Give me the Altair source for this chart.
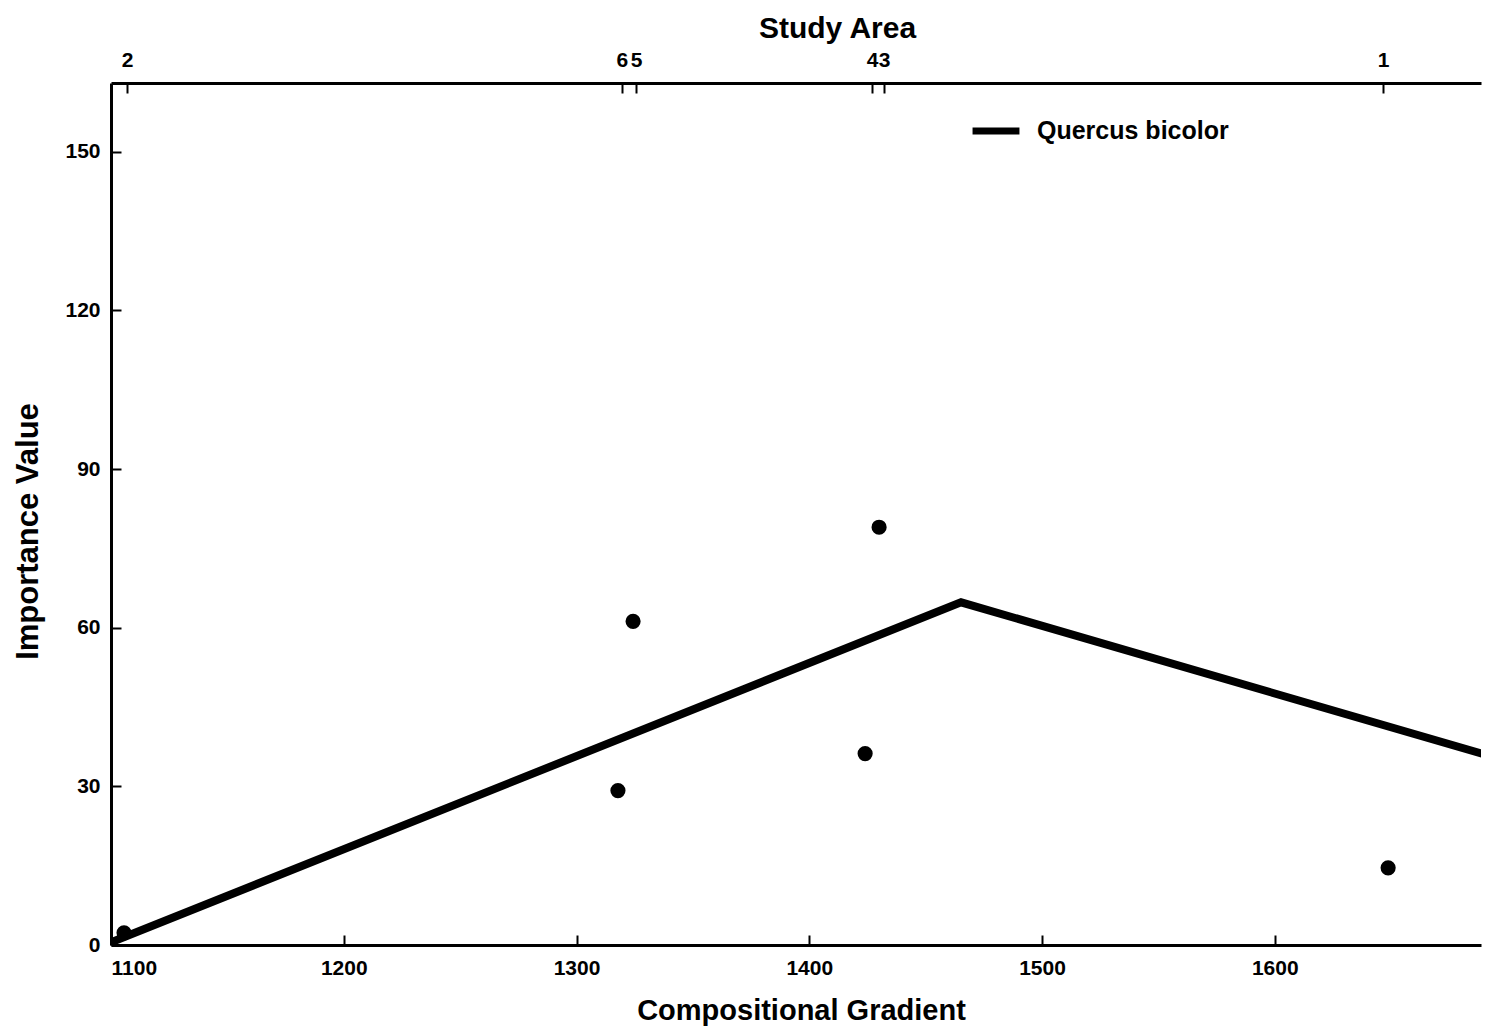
import altair as alt
import pandas as pd

# ---- data ----
gradient_obs = [1105.6, 1317.8, 1324.3, 1424.0, 1430.0, 1648.7]
importance_obs = [2.3, 29.2, 61.2, 36.2, 79.0, 14.6]

curve_gradient = [1100.0, 1465.2, 1695.1]
curve_importance = [0.5, 64.8, 35.4]
species_name = "Quercus bicolor"

study_area_ids = ["2", "6", "5", "4", "3", "1"]
study_area_pos = [1106.9, 1319.5, 1325.6, 1427.0, 1432.1, 1646.5]

x_tick_values = [1100, 1200, 1300, 1400, 1500, 1600]
y_tick_values = [0, 30, 60, 90, 120, 150]

x_domain = [1100, 1688.6]
y_domain = [0, 163]

FONT = "Liberation Sans"

obs_df = pd.DataFrame({"g": gradient_obs, "iv": importance_obs})
curve_df = pd.DataFrame({"g": curve_gradient, "iv": curve_importance,
                         "species": [species_name] * len(curve_gradient)})
study_df = pd.DataFrame({"pos": study_area_pos, "id": study_area_ids})

x_scale = alt.Scale(domain=x_domain, nice=False, zero=False)
y_scale = alt.Scale(domain=y_domain, nice=False, zero=False)

pos_list = "[" + ",".join(str(p) for p in study_area_pos) + "]"
id_list = "[" + ",".join("'" + s + "'" for s in study_area_ids) + "]"
study_label_expr = f"{id_list}[indexof({pos_list}, datum.value)]"

line = alt.Chart(curve_df).mark_line(
    strokeWidth=8, strokeCap="butt", strokeJoin="miter", clip=True
).encode(
    x=alt.X("g:Q", scale=x_scale, axis=alt.Axis(
        orient="bottom", values=x_tick_values, format="d", tickSize=0,
        labelPadding=12, labelFontSize=21, labelFontWeight="bold", labelFont=FONT,
        labelColor="black", labelOverlap=False,
        title="Compositional Gradient", titleFont=FONT, titleFontSize=29,
        titleFontWeight="bold", titleColor="black", titlePadding=18,
        titleX=690, titleAlign="center",
        domainColor="black", domainWidth=3, grid=False)),
    y=alt.Y("iv:Q", scale=y_scale, axis=alt.Axis(
        orient="left", values=y_tick_values, tickSize=0,
        labelPadding=11, labelFontSize=21, labelFontWeight="bold", labelFont=FONT,
        labelColor="black", labelOverlap=False,
        title="Importance Value", titleFont=FONT, titleFontSize=31,
        titleFontWeight="bold", titleColor="black", titlePadding=20,
        titleY=448, titleAlign="center",
        domainColor="black", domainWidth=3, grid=False)),
    color=alt.Color("species:N", scale=alt.Scale(range=["black"]), legend=alt.Legend(
        orient="none", legendX=858, legendY=21, title=None, padding=0,
        symbolType="stroke", symbolSize=2200, symbolStrokeWidth=7,
        symbolStrokeColor="black", labelOffset=14, labelLimit=0,
        labelFont=FONT, labelFontSize=25, labelFontWeight="bold", labelColor="black")),
)

points = alt.Chart(obs_df).mark_circle(size=230, opacity=1, color="black").encode(
    x=alt.X("g:Q", scale=x_scale, axis=alt.Axis(
        orient="bottom", values=x_tick_values, offset=-10, tickSize=10, tickWidth=2,
        tickColor="black", labels=False, domain=False, title=None, grid=False)),
    y=alt.Y("iv:Q", scale=y_scale, axis=alt.Axis(
        orient="left", values=y_tick_values, offset=-10, tickSize=10, tickWidth=2,
        tickColor="black", labels=False, domain=False, title=None, grid=False)),
)

top_axis = alt.Chart(study_df).mark_rule(opacity=0).encode(
    x=alt.X("pos:Q", scale=x_scale, axis=alt.Axis(
        orient="top", values=study_area_pos, labelExpr=study_label_expr, tickSize=0,
        labelPadding=13, labelFontSize=21, labelFontWeight="bold", labelFont=FONT,
        labelColor="black", labelOverlap=False, labelFlush=False,
        title="Study Area", titleFont=FONT, titleFontSize=30, titleFontWeight="bold",
        titleColor="black", titlePadding=6, titleX=726, titleAlign="center",
        domainColor="black", domainWidth=3, grid=False)),
)

top_ticks = alt.Chart(study_df).mark_rule(opacity=0).encode(
    x=alt.X("pos:Q", scale=x_scale, axis=alt.Axis(
        orient="top", values=study_area_pos, offset=-10, tickSize=10, tickWidth=2,
        tickColor="black", labels=False, domain=False, title=None, grid=False)),
)

chart = alt.layer(line, points, top_axis, top_ticks).resolve_scale(
    x="shared", y="shared"
).resolve_axis(
    x="independent", y="independent"
).properties(
    width=1370, height=862,
    autosize=alt.AutoSizeParams(type="none"),
    padding={"left": 103, "top": 75, "right": 2, "bottom": 84},
).configure_view(stroke=None)

chart.save("out.html", embed_options={"renderer": "svg", "actions": False})
